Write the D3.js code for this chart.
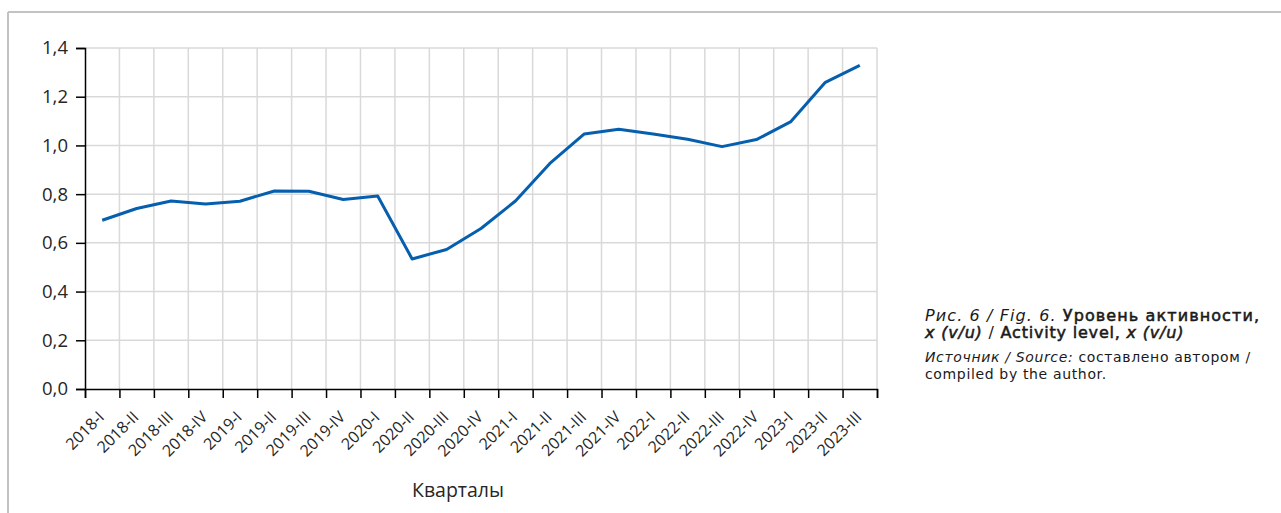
<!DOCTYPE html>
<html>
<head>
<meta charset="utf-8">
<script src="https://cdn.jsdelivr.net/npm/d3@7"></script>
<style>
  body { margin: 0; background: #fff; }
  svg { display: block; }
</style>
</head>
<body>
<div id="chart"></div>
<script>
// Quarters and activity level x (v/u)
var quarters = ['2018-I','2018-II','2018-III','2018-IV','2019-I','2019-II','2019-III','2019-IV',
                '2020-I','2020-II','2020-III','2020-IV','2021-I','2021-II','2021-III','2021-IV',
                '2022-I','2022-II','2022-III','2022-IV','2023-I','2023-II','2023-III'];
var activity = [0.693, 0.741, 0.772, 0.760, 0.771, 0.813, 0.812, 0.778,
                0.792, 0.534, 0.573, 0.659, 0.772, 0.926, 1.047, 1.066,
                1.047, 1.025, 0.995, 1.024, 1.098, 1.259, 1.329];
var yTicks = [0, 0.2, 0.4, 0.6, 0.8, 1.0, 1.2, 1.4];

var width = 1281, height = 513;
var plotLeft = 85, plotRight = 877, plotTop = 48, plotBottom = 389;

var svg = d3.select('#chart').append('svg')
    .attr('width', width)
    .attr('height', height);

// outer frame (only top and left edges visible)
svg.append('line').attr('x1', 8).attr('x2', width).attr('y1', 12).attr('y2', 12)
    .attr('stroke', '#c3c3c3').attr('stroke-width', 2);
svg.append('line').attr('x1', 8).attr('x2', 8).attr('y1', 12).attr('y2', height)
    .attr('stroke', '#c3c3c3').attr('stroke-width', 2);

var x = d3.scaleBand().domain(quarters).range([plotLeft, plotRight]).padding(0);
var y = d3.scaleLinear().domain([0, 1.4]).range([plotBottom, plotTop]);

var fmt = function(d) { return d3.format('.1f')(d).replace('.', ','); };

// grid
var grid = svg.append('g');
grid.selectAll('.hg').data(yTicks.slice(1)).join('line')
    .attr('x1', plotLeft).attr('x2', plotRight)
    .attr('y1', d => y(d)).attr('y2', d => y(d))
    .attr('stroke', '#d9d9d9').attr('stroke-width', 1.5);
var bounds = quarters.map(q => x(q)).concat([plotRight]);
grid.selectAll('.vg').data(bounds.slice(1)).join('line')
    .attr('x1', d => d).attr('x2', d => d)
    .attr('y1', plotTop).attr('y2', plotBottom)
    .attr('stroke', '#d9d9d9').attr('stroke-width', 1.5);

// y axis
var yAxis = svg.append('g')
    .attr('transform', 'translate(' + plotLeft + ',0)')
    .call(d3.axisLeft(y).tickValues(yTicks).tickFormat(fmt).tickSize(9).tickPadding(8));
yAxis.select('.domain').attr('stroke', '#000').attr('stroke-width', 1.5);
yAxis.selectAll('.tick line').attr('stroke', '#000').attr('stroke-width', 1.5);
yAxis.selectAll('text')
    .style('font-family', '"Open Sans", sans-serif')
    .style('font-size', '18.5px')
    .attr('fill', '#262626');

// x axis: ticks at category boundaries
var xb = d3.scaleLinear().domain([0, quarters.length]).range([plotLeft, plotRight]);
var xAxis = svg.append('g')
    .attr('transform', 'translate(0,' + plotBottom + ')')
    .call(d3.axisBottom(xb).tickValues(d3.range(quarters.length + 1)).tickSize(9).tickFormat(''));
xAxis.select('.domain').attr('stroke', '#000').attr('stroke-width', 1.5);
xAxis.selectAll('.tick line').attr('stroke', '#000').attr('stroke-width', 1.5);

// category labels
svg.append('g').selectAll('text').data(quarters).join('text')
    .attr('transform', d => 'translate(' + (x(d) + x.bandwidth() / 2 + 3) + ',' + (plotBottom + 29) + ') rotate(-45)')
    .attr('text-anchor', 'end')
    .style('font-family', '"Open Sans", sans-serif')
    .style('font-size', '16px')
    .attr('fill', '#262626')
    .text(d => d);

// axis title
svg.append('text')
    .attr('x', 458)
    .attr('y', 497)
    .attr('text-anchor', 'middle')
    .style('font-family', '"Open Sans", sans-serif')
    .style('font-size', '19.5px')
    .attr('fill', '#262626')
    .text('Кварталы');

// line
var line = d3.line()
    .x((d, i) => x(quarters[i]) + x.bandwidth() / 2)
    .y(d => y(d));
svg.append('path')
    .datum(activity)
    .attr('d', line)
    .attr('fill', 'none')
    .attr('stroke', '#065fae')
    .attr('stroke-width', 3)
    .attr('stroke-linejoin', 'round');

// caption (medium weight faked with a thin stroke)
var cap = svg.append('g')
    .style('font-family', '"DejaVu Sans", sans-serif')
    .attr('fill', '#1a1a1a');
function medium(sel) {
    return sel.attr('stroke', '#1a1a1a').attr('stroke-width', 0.55);
}
var t1 = cap.append('text').attr('x', 925).attr('y', 321)
    .style('font-size', '16px').style('letter-spacing', '1.1px');
t1.append('tspan').attr('font-style', 'italic').text('Рис. 6 / Fig. 6. ');
medium(t1.append('tspan')).text('Уровень активности,');
var t2 = cap.append('text').attr('x', 925).attr('y', 338)
    .style('font-size', '16px').style('letter-spacing', '0.8px');
medium(t2.append('tspan').attr('font-style', 'italic')).text('x (v/u)');
t2.append('tspan').text(' / ');
medium(t2.append('tspan')).text('Activity level, ');
medium(t2.append('tspan').attr('font-style', 'italic')).text('x (v/u)');
var t3 = cap.append('text').attr('x', 925).attr('y', 362)
    .style('font-size', '14px').style('letter-spacing', '0.65px');
t3.append('tspan').attr('font-style', 'italic').text('Источник / Source: ');
t3.append('tspan').text('составлено автором /');
cap.append('text').attr('x', 925).attr('y', 379)
    .style('font-size', '14px').style('letter-spacing', '0.65px')
    .text('compiled by the author.');
</script>
</body>
</html>
